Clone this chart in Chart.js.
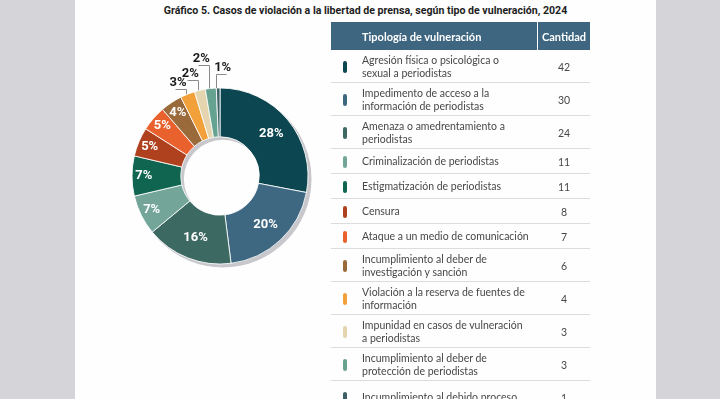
<!DOCTYPE html>
<html>
<head>
<meta charset="utf-8">
<script src="https://cdn.jsdelivr.net/npm/chart.js@4.4.1/dist/chart.umd.min.js"></script>
<style>
html, body { margin: 0; padding: 0; }
body { width: 720px; height: 399px; overflow: hidden; background: #d4d4d9; position: relative; font-family: Lato, Roboto, sans-serif; }
#page { position: absolute; left: 75px; top: 0; width: 581px; height: 399px; background: #fefefe; }
#titulo { position: absolute; left: 75px; width: 581px; top: 4px; text-align: center; font: bold 10.6px "Liberation Sans Narrow", Roboto, sans-serif; color: #1d1d1d; }
#chartBox { position: absolute; left: 90px; top: 46px; width: 260px; height: 260px; }
#tabla { position: absolute; left: 331px; top: 22px; width: 259px; color: #474747; }
.head { display: flex; background: #3e6680; color: #fff; font-weight: bold; font-size: 11px; height: 28px; }
.head .c1 { width: 207px; padding-left: 31px; box-sizing: border-box; border-right: 1px solid #fff; display: flex; align-items: center; }
.head .c2 { flex: 1; display: flex; align-items: center; justify-content: center; }
.fila { display: flex; align-items: center; border-bottom: 1px solid #dcdcdc; box-sizing: border-box; font-size: 10.5px; line-height: 13.5px; }
.marca { width: 31px; position: relative; height: 100%; }
.marca span { position: absolute; left: 12px; top: 50%; margin-top: -5px; width: 4px; height: 12px; border-radius: 2px; }
.texto { width: 176px; padding-top: 2px; }
.valor { flex: 1; text-align: center; padding-top: 4px; }
</style>
</head>
<body>
<div id="page"></div>
<div id="titulo">Gráfico 5. Casos de violación a la libertad de prensa, según tipo de vulneración, 2024</div>
<div id="chartBox"><canvas id="grafico"></canvas></div>
<div id="tabla">
  <div class="head"><div class="c1">Tipología de vulneración</div><div class="c2">Cantidad</div></div>
</div>
<script>
// datos
const categorias = [
  ['Agresión física o psicológica o', 'sexual a periodistas'],
  ['Impedimento de acceso a la', 'información de periodistas'],
  ['Amenaza o amedrentamiento a', 'periodistas'],
  ['Criminalización de periodistas'],
  ['Estigmatización de periodistas'],
  ['Censura'],
  ['Ataque a un medio de comunicación'],
  ['Incumplimiento al deber de', 'investigación y sanción'],
  ['Violación a la reserva de fuentes de', 'información'],
  ['Impunidad en casos de vulneración', 'a periodistas'],
  ['Incumplimiento al deber de', 'protección de periodistas'],
  ['Incumplimiento al debido proceso', '']
];
const cantidades = [42, 30, 24, 11, 11, 8, 7, 6, 4, 3, 3, 1];
const porcentajes = ['28%', '20%', '16%', '7%', '7%', '5%', '5%', '4%', '3%', '2%', '2%', '1%'];
const colores = ['#0c4650', '#3e6882', '#3c6962', '#73a698', '#0f6550', '#b0411f',
                 '#e9612c', '#9b6a3b', '#f2a13a', '#e4d5ae', '#66a290', '#3e6167'];

// tabla
var tabla = document.getElementById('tabla');
for (var i = 0; i < categorias.length; i++) {
  var fila = document.createElement('div');
  fila.className = 'fila';
  fila.style.height = (categorias[i].length > 1 ? 33 : 25) + 'px';
  fila.innerHTML = '<div class="marca"><span style="background:' + colores[i] + '"></span></div>' +
    '<div class="texto">' + categorias[i].join('<br>') + '</div>' +
    '<div class="valor">' + cantidades[i] + '</div>';
  tabla.appendChild(fila);
}

// sombra gris detrás del anillo
const sombra = {
  id: 'sombra',
  beforeDatasetsDraw(chart) {
    const a = chart.getDatasetMeta(0).data[0];
    const p = a.getProps(['x', 'y', 'innerRadius', 'outerRadius'], true);
    const ctx = chart.ctx;
    ctx.save();
    ctx.fillStyle = '#c7c7cc';
    ctx.beginPath();
    ctx.arc(p.x + 3, p.y + 3, p.outerRadius + 0.5, 0, Math.PI * 2);
    ctx.arc(p.x + 3, p.y + 3, p.innerRadius, 0, Math.PI * 2, true);
    ctx.fill();
    ctx.restore();
  }
};

// etiquetas de porcentaje
const subida = { 8: 5, 9: 10, 10: 23, 11: 14 };
const etiquetas = {
  id: 'etiquetas',
  afterDatasetsDraw(chart) {
    const ctx = chart.ctx;
    chart.getDatasetMeta(0).data.forEach(function (arc, i) {
      const p = arc.getProps(['x', 'y', 'startAngle', 'endAngle', 'innerRadius', 'outerRadius'], true);
      const mid = (p.startAngle + p.endAngle) / 2;
      ctx.save();
      if (cantidades[i] >= 5) {
        const r = p.innerRadius + (p.outerRadius - p.innerRadius) * (cantidades[i] >= 20 ? 0.56 : 0.76);
        ctx.fillStyle = '#ffffff';
        ctx.font = 'bold 13px Roboto, sans-serif';
        ctx.textAlign = 'center';
        ctx.textBaseline = 'middle';
        ctx.fillText(porcentajes[i], p.x + Math.cos(mid) * r, p.y + Math.sin(mid) * r);
      } else {
        const x0 = p.x + Math.cos(mid) * p.outerRadius - 2;
        const y0 = p.y + Math.sin(mid) * p.outerRadius;
        const yt = y0 - subida[i];
        const derecha = i == 11;
        ctx.strokeStyle = '#8a8a8a';
        ctx.lineWidth = 1;
        ctx.beginPath();
        ctx.moveTo(Math.round(x0) + 0.5, y0);
        ctx.lineTo(Math.round(x0) + 0.5, Math.round(yt) + 0.5);
        ctx.lineTo(Math.round(x0) + (derecha ? 10 : -11) + 0.5, Math.round(yt) + 0.5);
        ctx.stroke();
        ctx.fillStyle = '#1c1c1c';
        ctx.font = 'bold 13px Roboto, sans-serif';
        ctx.textAlign = derecha ? 'left' : 'right';
        ctx.textBaseline = 'bottom';
        ctx.fillText(porcentajes[i], derecha ? x0 - 2 : x0 + 1, yt);
      }
      ctx.restore();
    });
  }
};

new Chart(document.getElementById('grafico'), {
  type: 'doughnut',
  data: {
    labels: categorias,
    datasets: [{
      data: cantidades,
      backgroundColor: colores,
      borderColor: 'rgba(255,255,255,0.85)',
      borderWidth: 1
    }]
  },
  options: {
    responsive: true,
    maintainAspectRatio: false,
    animation: false,
    radius: 88,
    cutout: '44.5%',
    plugins: {
      legend: { display: false },
      tooltip: { enabled: false }
    }
  },
  plugins: [sombra, etiquetas]
});
</script>
</body>
</html>
